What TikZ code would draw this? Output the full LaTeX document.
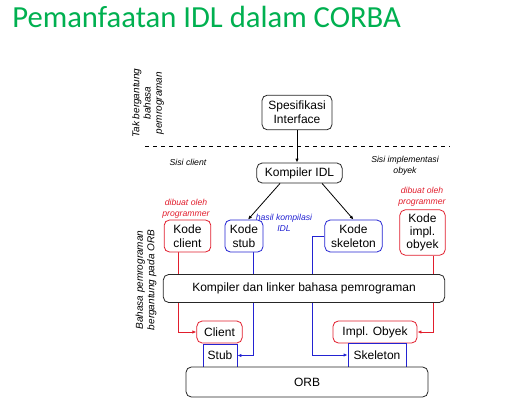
\documentclass[tikz,border=0pt]{standalone}
\usepackage{fontspec}
\setmainfont{Liberation Sans}
\newfontfamily\titlefont{Carlito}
\usepackage{tikz}
\usetikzlibrary{
  arrows.meta,
  backgrounds
}
\definecolor{TitleGreen}{RGB}{0, 176, 80}
\definecolor{ProgRed}{RGB}{225, 30, 45}
\definecolor{IdlBlue}{RGB}{35, 35, 210}
\tikzset{
    box/.style={draw=black!85, line width=0.6pt, rounded corners=4pt, fill=white, align=center, inner sep=0pt, font=\fontsize{9}{10.5}\selectfont},
    redbox/.style={box, draw=ProgRed},
    bluebox/.style={box, draw=IdlBlue},
    flatbox/.style={box, draw=IdlBlue, rounded corners=0pt},
    note/.style={align=center, font=\fontsize{6.5}{8}\selectfont\itshape},
    sidenote/.style={align=center, rotate=90, font=\fontsize{7.5}{8.5}\selectfont\itshape},
    link/.style={line width=0.6pt, -{Latex[length=3pt, width=2.5pt]}}
}

\begin{document}
\begin{tikzpicture}[x=0.75pt, y=-0.75pt]
    \useasboundingbox (0,0) rectangle (513,417);
    \node[anchor=base west, text=TitleGreen, inner sep=0pt, font=\titlefont\fontsize{23}{28}\selectfont] (title) at (12,28) {Pemanfaatan IDL dalam CORBA};

    \node[sidenote] (independent) at (148,103) {Tak bergantung\\bahasa\\pemrograman};
    \node[sidenote] (dependent) at (146,280) {Bahasa pemrograman\\bergantung pada ORB};

    \node[box, minimum width=52.5pt, minimum height=26pt] (spec) at (297,112.5) {Spesifikasi\\Interface};
    \coordinate (dashL) at (145,146);
    \coordinate (dashR) at (450,146);
    \draw[dashed, line width=0.6pt] (dashL) -- (dashR);

    \node[note] (clientside) at (188,162) {Sisi client};
    \node[note] (implside) at (405,166) {Sisi implementasi\\obyek};
    \node[box, minimum width=64pt, minimum height=15pt] (kompileridl) at (299.5,173) {Kompiler IDL};

    \node[note, text=ProgRed] (byprogL) at (186,208.5) {dibuat oleh\\programmer};
    \node[note, text=ProgRed] (byprogR) at (422,197) {dibuat oleh\\programmer};
    \node[note, text=IdlBlue] (idlresult) at (284,223) {hasil kompilasi\\IDL};

    \node[redbox, minimum width=35pt, minimum height=24pt] (kodeclient) at (187.5,236) {Kode\\client};
    \node[bluebox, minimum width=28.5pt, minimum height=24pt] (kodestub) at (244,236) {Kode\\stub};
    \node[bluebox, minimum width=43pt, minimum height=24pt] (kodeskeleton) at (353.5,236) {Kode\\skeleton};
    \node[redbox, minimum width=34pt, minimum height=34pt, font=\fontsize{9}{9.8}\selectfont] (kodeimpl) at (422.5,232.5) {Kode\\impl.\\obyek};

    \node[box, minimum width=211pt, minimum height=21pt] (linker) at (304,288.5) {Kompiler dan linker bahasa pemrograman};

    \node[redbox, minimum width=34pt, minimum height=16.5pt] (client) at (219.5,332) {Client};
    \node[flatbox, minimum width=25.5pt, minimum height=17.25pt] (stub) at (220,355.5) {Stub};
    \node[redbox, minimum width=63pt, minimum height=16.5pt] (implobyek) at (375,332) {Impl. Obyek};
    \node[flatbox, minimum width=43.5pt, minimum height=18pt] (skeleton) at (377,355) {Skeleton};
    \node[box, minimum width=181.5pt, minimum height=22.5pt] (orb) at (307,382) {ORB};

    \draw[link] (spec.south) -- (spec.south |- kompileridl.north);
    \draw[link] ([xshift=-14.6pt]kompileridl.south) -- ([xshift=3pt]kodestub.north);
    \draw[link] ([xshift=16.9pt]kompileridl.south) -- (kodeskeleton.north);

    \begin{scope}[on background layer]
        \draw[link, ProgRed] ([xshift=-7.1pt]kodeclient.south) |- (client.west);
        \draw[link, IdlBlue] ([xshift=6.75pt]kodestub.south) |- (stub.east);
        \draw[link, IdlBlue] (kodeskeleton.west) -- ++(-12,0) |- (skeleton.west);
        \draw[link, ProgRed] ([xshift=7.9pt]kodeimpl.south) |- (implobyek.east);
    \end{scope}
\end{tikzpicture}
\end{document}
